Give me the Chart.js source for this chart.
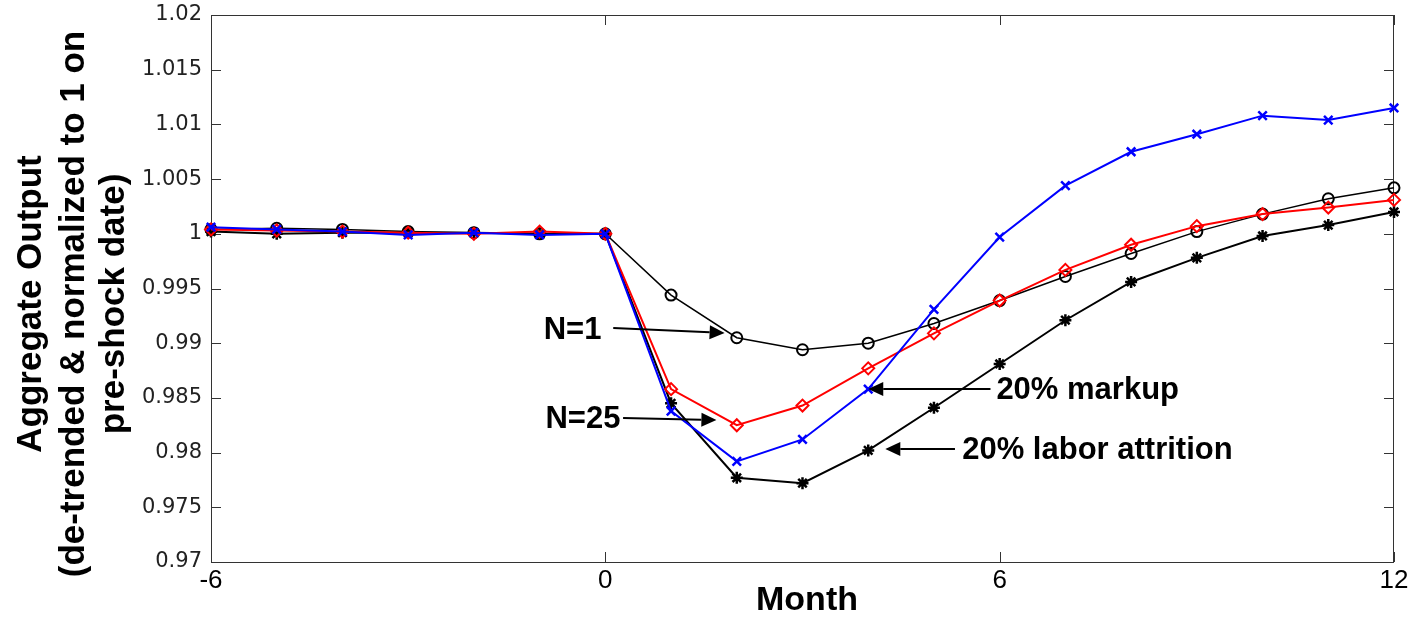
<!DOCTYPE html>
<html>
<head>
<meta charset="utf-8">
<script src="https://cdn.jsdelivr.net/npm/chart.js@4/dist/chart.umd.min.js"></script>
<style>
html,body{margin:0;padding:0;background:#fff;}
#wrap{width:1408px;height:618px;position:relative;}
</style>
</head>
<body>
<div id="wrap"><canvas id="myChart"></canvas></div>
<script>
// 월 (shock = 0)
const months = [-6,-5,-4,-3,-2,-1,0,1,2,3,4,5,6,7,8,9,10,11,12];
// N=1
const outN1 = [1.0004,1.0005,1.0004,1.0002,1.0001,1.0000,1.0000,0.9944,0.9905,0.9894,0.9900,0.9918,0.9939,0.9961,0.9982,1.0002,1.0018,1.0032,1.0042];
// N=25
const outN25 = [1.0004,1.0003,1.0002,1.0001,1.0000,1.0002,1.0000,0.9858,0.9825,0.9843,0.9877,0.9909,0.9939,0.9967,0.9990,1.0007,1.0018,1.0024,1.0031];
// 20% markup
const outMarkup = [1.0006,1.0004,1.0002,0.9999,1.0001,0.9999,1.0000,0.9838,0.9792,0.9812,0.9858,0.9931,0.9997,1.0044,1.0075,1.0091,1.0108,1.0104,1.0115];
// 20% labor attrition
const outAttrition = [1.0002,1.0000,1.0001,1.0001,1.0001,1.0000,1.0000,0.9845,0.9777,0.9772,0.9802,0.9841,0.9881,0.9921,0.9956,0.9978,0.9998,1.0008,1.0020];

const xTicks = [-6,0,6,12];
const yTicks = [0.97,0.975,0.98,0.985,0.99,0.995,1,1.005,1.01,1.015,1.02];
const yTickLabels = ['0.97','0.975','0.98','0.985','0.99','0.995','1','1.005','1.01','1.015','1.02'];

const yTitle = ['Aggregate Output','(de-trended & normalized to 1 on','pre-shock date)'];
const xTitle = 'Month';

// 화살표 주석 (data 좌표)
const notes = [
	{text:'N=1', tx:-0.06, ty:0.9913, align:'right', from:[0.12,0.9914], to:[1.815,0.99093]},
	{text:'N=25', tx:0.23, ty:0.98316, align:'right', from:[0.27,0.98316], to:[1.69,0.98298]},
	{text:'20% markup', tx:5.95, ty:0.98581, align:'left', from:[5.86,0.98581], to:[4.0,0.98581]},
	{text:'20% labor attrition', tx:5.43, ty:0.98033, align:'left', from:[5.32,0.98033], to:[4.26,0.98033]}
];

function pts(arr){
	return months.map((m,i) => ({x:m, y:arr[i]}));
}

//박스 + 안쪽 눈금
const boxPlugin = {
	id:'box',
	beforeDatasetsDraw(chart){
		const {ctx, chartArea:a, scales:{x,y}} = chart;
		ctx.save();
		ctx.strokeStyle = '#333';
		ctx.lineWidth = 1;
		ctx.strokeRect(a.left+0.5, a.top+0.5, a.right-a.left-1, a.bottom-a.top);
		ctx.beginPath();
		xTicks.forEach(v => {
			const px = Math.round(x.getPixelForValue(v))+0.5;
			ctx.moveTo(px,a.bottom); ctx.lineTo(px,a.bottom-10);
			ctx.moveTo(px,a.top); ctx.lineTo(px,a.top+10);
		});
		yTicks.forEach(v => {
			const py = Math.round(y.getPixelForValue(v))+0.5;
			ctx.moveTo(a.left,py); ctx.lineTo(a.left+10,py);
			ctx.moveTo(a.right,py); ctx.lineTo(a.right-10,py);
		});
		ctx.stroke();
		ctx.restore();
	},
	afterDraw(chart){
		const {ctx, chartArea:a, scales:{x,y}} = chart;
		ctx.save();
		// y 제목
		ctx.fillStyle = '#000';
		ctx.font = 'bold 35px "Liberation Sans", Arial, sans-serif';
		ctx.textAlign = 'center';
		ctx.textBaseline = 'alphabetic';
		const base = [41, 84, 124];
		yTitle.forEach((t,i) => {
			ctx.save();
			ctx.translate(base[i], 304);
			ctx.rotate(-Math.PI/2);
			ctx.fillText(t, 0, 0);
			ctx.restore();
		});
		// x 제목
		ctx.font = 'bold 34px "Liberation Sans", Arial, sans-serif';
		ctx.textBaseline = 'middle';
		ctx.fillText(xTitle, 807, 601);
		// 주석
		ctx.font = 'bold 31px "Liberation Sans", Arial, sans-serif';
		ctx.strokeStyle = '#000';
		ctx.lineWidth = 2;
		notes.forEach(n => {
			ctx.textAlign = n.align;
			ctx.fillText(n.text, x.getPixelForValue(n.tx), y.getPixelForValue(n.ty)+1);
			const x0 = x.getPixelForValue(n.from[0]), y0 = y.getPixelForValue(n.from[1]);
			const x1 = x.getPixelForValue(n.to[0]), y1 = y.getPixelForValue(n.to[1]);
			const ang = Math.atan2(y1-y0, x1-x0);
			const hl = 15, hw = 7;
			const bx = x1 - hl*Math.cos(ang), by = y1 - hl*Math.sin(ang);
			ctx.beginPath();
			ctx.moveTo(x0,y0); ctx.lineTo(bx,by);
			ctx.stroke();
			ctx.beginPath();
			ctx.moveTo(x1,y1);
			ctx.lineTo(bx + hw*Math.sin(ang), by - hw*Math.cos(ang));
			ctx.lineTo(bx - hw*Math.sin(ang), by + hw*Math.cos(ang));
			ctx.closePath();
			ctx.fill();
		});
		ctx.restore();
	}
};

const ctx = document.getElementById('myChart');
new Chart(ctx, {
	type:'line',
	data:{
		datasets:[
			{label:'20% markup', data:pts(outMarkup), borderColor:'#0000ff', backgroundColor:'rgba(0,0,0,0)',
				borderWidth:2, pointStyle:'crossRot', pointRadius:6, pointBorderWidth:2.5, pointBorderColor:'#0000ff', order:0, clip:false},
			{label:'N=25', data:pts(outN25), borderColor:'#ff0000', backgroundColor:'rgba(0,0,0,0)',
				borderWidth:2, pointStyle:'rectRot', pointRadius:6, pointBorderWidth:2, pointBorderColor:'#ff0000', order:1, clip:false},
			{label:'20% labor attrition', data:pts(outAttrition), borderColor:'#000', backgroundColor:'rgba(0,0,0,0)',
				borderWidth:2, pointStyle:'star', pointRadius:6, pointBorderWidth:2.5, pointBorderColor:'#000', order:2, clip:false},
			{label:'N=1', data:pts(outN1), borderColor:'#000', backgroundColor:'rgba(0,0,0,0)',
				borderWidth:1.5, pointStyle:'circle', pointRadius:5.5, pointBorderWidth:2, pointBorderColor:'#000', order:3, clip:false}
		]
	},
	options:{
		responsive:true,
		maintainAspectRatio:false,
		animation:false,
		layout:{padding:{top:15, right:14, left:0, bottom:0}},
		plugins:{legend:{display:false}, tooltip:{enabled:false}},
		elements:{line:{tension:0}},
		scales:{
			x:{
				type:'linear', min:-6, max:12,
				afterBuildTicks: s => { s.ticks = xTicks.map(v => ({value:v})); },
				afterFit: s => { s.height = 56; s.paddingLeft = 0; s.paddingRight = 0; },
				grid:{display:false, drawTicks:false},
				border:{display:false},
				ticks:{padding:3, color:'#000', font:{family:'"Liberation Sans Narrow", "Liberation Sans", Arial', size:26},
					maxRotation:0, autoSkip:false, callback: v => String(v)}
			},
			y:{
				type:'linear', min:0.97, max:1.02,
				afterBuildTicks: s => { s.ticks = yTicks.map(v => ({value:v})); },
				afterFit: s => { s.width = 211; s.paddingTop = 0; s.paddingBottom = 0; },
				grid:{display:false, drawTicks:false},
				border:{display:false},
				ticks:{padding:9, color:'#222', font:{family:'"DejaVu Sans", sans-serif', size:21},
					autoSkip:false, callback: v => yTickLabels[yTicks.findIndex(t => Math.abs(t-v) < 1e-9)]}
			}
		}
	},
	plugins:[boxPlugin]
});
</script>
</body>
</html>
